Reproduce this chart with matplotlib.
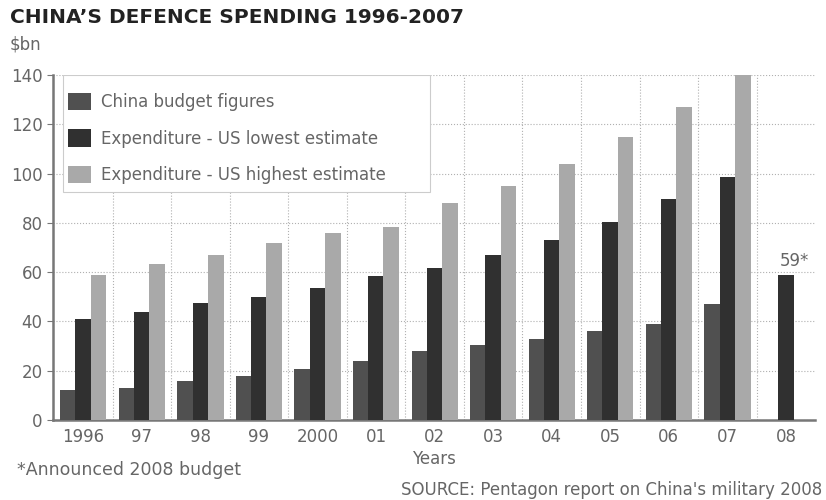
import matplotlib.pyplot as plt
from matplotlib.patches import Rectangle
import numpy as np

years = ["1996", "97", "98", "99", "2000", "01", "02", "03", "04", "05", "06", "07", "08"]
budget = [12, 13, 16, 18, 20.5, 24, 28, 30.5, 33, 36, 39, 47]
lowest = [41, 44, 47.5, 50, 53.5, 58.5, 61.5, 67, 73, 80.5, 89.5, 98.5]
highest = [59, 63.5, 67, 72, 76, 78.5, 88, 95, 104, 115, 127, 140]
budget_2008 = 59

c_budget = "#505050"
c_low = "#303030"
c_high = "#a9a9a9"
txt = "#666666"

fig = plt.figure(figsize=(8.26, 5), dpi=100)
ax = fig.add_axes([0.064, 0.16, 0.923, 0.69])

x = np.arange(len(budget))
w = 0.27
ax.bar(x - 0.26, budget, w, color=c_budget, label="China budget figures", zorder=3)
ax.bar(x, lowest, w, color=c_low, label="Expenditure - US lowest estimate", zorder=3)
ax.bar(x + 0.26, highest, w, color=c_high, label="Expenditure - US highest estimate", zorder=3)
ax.bar(12, budget_2008, w, color=c_low, zorder=3)
ax.text(12.15, budget_2008 + 2, f"{budget_2008}*", color=txt, fontsize=12,
        ha="center", va="bottom")

ax.set_xlim(-0.52, 12.5)
ax.set_ylim(0, 140)
ax.set_yticks(range(0, 141, 20))
ax.set_xticks(range(len(years)))
ax.set_xticklabels(years)
ax.set_xticks(np.arange(0.5, 12, 1), minor=True)
ax.tick_params(axis="x", which="major", length=0, pad=6, labelsize=12, labelcolor=txt)
ax.tick_params(axis="x", which="minor", length=0)
ax.tick_params(axis="y", length=4, color="#777777", labelsize=12, labelcolor=txt)

ax.grid(axis="y", which="major", linestyle=":", color="#b0b0b0", linewidth=0.8, zorder=0)
ax.grid(axis="x", which="minor", linestyle=":", color="#b0b0b0", linewidth=0.8, zorder=0)

for s in ["top", "right"]:
    ax.spines[s].set_visible(False)
for s in ["left", "bottom"]:
    ax.spines[s].set_color("#777777")
    ax.spines[s].set_linewidth(1.8)

# legend box drawn separately so its size matches the original
ax.add_patch(Rectangle((0.013, 0.661), 0.482, 0.339, transform=ax.transAxes,
                       facecolor="white", edgecolor="#cccccc", linewidth=0.8, zorder=4))
leg = ax.legend(loc="upper left", bbox_to_anchor=(0.02, 0.948), fontsize=12,
                frameon=False, handlelength=1.4, handleheight=1.2, handletextpad=0.6,
                labelspacing=1.1, borderpad=0, borderaxespad=0, labelcolor=txt)
leg.set_zorder(5)

ax.set_xlabel("Years", color=txt, fontsize=12, labelpad=3)

fig.text(0.012, 0.965, "CHINA\u2019S DEFENCE SPENDING 1996-2007", fontsize=14.5,
         fontweight="bold", color="#222222", va="center")
fig.text(0.012, 0.91, "$bn", fontsize=12, color=txt, va="center")
fig.text(0.02, 0.06, "*Announced 2008 budget", fontsize=12.5, color=txt, va="center")
fig.text(0.996, 0.02, "SOURCE: Pentagon report on China's military 2008", fontsize=12,
         color=txt, ha="right", va="center")

fig.savefig("out.png", dpi=100)
